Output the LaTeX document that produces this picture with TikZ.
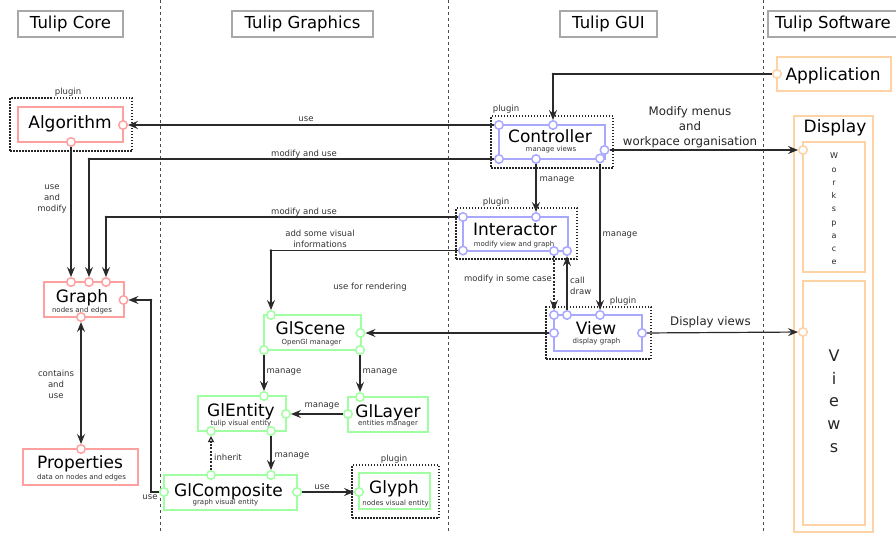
\documentclass[tikz,border=0pt]{standalone}
\usepackage{fontspec}
\setmainfont{DejaVu Sans}
\usetikzlibrary{arrows.meta}
\definecolor{rc}{HTML}{FFA0A0}
\definecolor{bc}{HTML}{A8A8FF}
\definecolor{gc}{HTML}{A0FFA0}
\definecolor{oc}{HTML}{FFD2A6}
\definecolor{hc}{HTML}{A8A8A8}
\definecolor{lc}{HTML}{2A2A2A}
\begin{document}
\begin{tikzpicture}[x=1pt,y=-1pt,
  boxr/.style={draw=rc,line width=2pt,inner sep=0},
  boxb/.style={draw=bc,line width=2pt,inner sep=0},
  boxg/.style={draw=gc,line width=2pt,inner sep=0},
  boxo/.style={draw=oc,line width=2pt,inner sep=0},
  plug/.style={draw=black!85,line width=1.5pt,dash pattern=on 1.5pt off 1.5pt,inner sep=0},
  hdrbox/.style={draw=hc,line width=2pt,inner sep=0,font=\fontsize{16.5}{20}\selectfont},
  portc/.style={circle,draw=#1,fill=white,line width=1.5pt,minimum size=8.5pt,inner sep=0},
  tipst/.tip={Stealth[length=10pt,width=8pt,inset=3.5pt]},
  arr/.style={draw=lc,line width=1.2pt,-tipst},
  ttl/.style={font=\fontsize{17}{20}\selectfont,anchor=base,inner sep=0},
  subt/.style={font=\fontsize{7}{8}\selectfont,anchor=base,inner sep=0,text=black!80},
  lab/.style={font=\fontsize{8.5}{11}\selectfont,text=black!80,inner sep=0,align=center},
  biglab/.style={font=\fontsize{11.8}{15}\selectfont,text=black!85,inner sep=0,align=center},
  colsep/.style={draw=black!70,line width=1pt,dash pattern=on 2.5pt off 3.5pt},
  cornerdot/.style={fill=lc}
]
\useasboundingbox (0,0) rectangle (896,533);
\fill[white] (0,0) rectangle (896,533);

% column separators
\draw[colsep] (160,0) -- (160,533);
\draw[colsep] (448,0) -- (448,533);
\draw[colsep] (763,0) -- (763,533);

% headers
\node[hdrbox,minimum width=105pt,minimum height=26pt] (hCore) at (70.5,24) {Tulip Core};
\node[hdrbox,minimum width=141pt,minimum height=26pt] (hGraph) at (302.5,24) {Tulip Graphics};
\node[hdrbox,minimum width=97pt,minimum height=26pt] (hGui) at (608.5,24) {Tulip GUI};
\node[hdrbox,minimum width=130pt,minimum height=26pt] (hSoft) at (833,24) {Tulip Software};

% plugin frames
\node[plug,minimum width=122pt,minimum height=53pt] (algP) at (71,124.5) {};
\node[plug,minimum width=122pt,minimum height=52pt] (ctrlP) at (552,142) {};
\node[plug,minimum width=121pt,minimum height=51pt] (intP) at (516.5,233.5) {};
\node[plug,minimum width=105pt,minimum height=52pt] (viewP) at (598.5,333) {};
\node[plug,minimum width=87pt,minimum height=53pt] (glyP) at (395.5,491.5) {};
\node[lab] (algPl) at (68,92) {plugin};
\node[lab] (ctrlPl) at (506,109) {plugin};
\node[lab] (intPl) at (496,202) {plugin};
\node[lab] (viewPl) at (623,301) {plugin};
\node[lab] (glyPl) at (394,459) {plugin};

% boxes
\node[boxr,minimum width=105pt,minimum height=35pt] (alg) at (70.5,124.5) {};
\node[boxr,minimum width=80pt,minimum height=35pt] (graph) at (84,299.5) {};
\node[boxr,minimum width=115pt,minimum height=36pt] (props) at (80.5,467) {};
\node[boxb,minimum width=106pt,minimum height=34pt] (ctrl) at (552,142) {};
\node[boxb,minimum width=105pt,minimum height=34pt] (inter) at (515.5,234) {};
\node[boxb,minimum width=88pt,minimum height=36pt] (view) at (598,333) {};
\node[boxg,minimum width=97pt,minimum height=35pt] (glscene) at (312.5,332.5) {};
\node[boxg,minimum width=88pt,minimum height=35pt] (glentity) at (242,413.5) {};
\node[boxg,minimum width=80pt,minimum height=35pt] (gllayer) at (388,414.5) {};
\node[boxg,minimum width=133pt,minimum height=35pt] (glcomp) at (230.5,492.5) {};
\node[boxg,minimum width=71pt,minimum height=36pt] (glyph) at (394.5,491) {};
\node[boxo,minimum width=114pt,minimum height=34pt] (app) at (834,74) {};
\node[boxo,minimum width=79pt,minimum height=416pt] (display) at (833.5,324) {};
\node[boxo,minimum width=62pt,minimum height=130pt] (work) at (834,207) {};
\node[boxo,minimum width=62pt,minimum height=244pt] (views) at (834,403) {};

% titles
\node[ttl] (algT) at (70,128.5) {Algorithm};
\node[ttl] (graphT) at (82,302) {Graph};
\node[subt] (graphS) at (82,312) {nodes and edges};
\node[ttl] (propsT) at (80,468) {Properties};
\node[subt] (propsS) at (81.5,479) {data on nodes and edges};
\node[ttl] (ctrlT) at (550,142.5) {Controller};
\node[subt] (ctrlS) at (551,151.5) {manage views};
\node[ttl] (intT) at (515,235.5) {Interactor};
\node[subt] (intS) at (514,246) {modify view and graph};
\node[ttl] (viewT) at (596,334.5) {View};
\node[subt] (viewS) at (596.5,343.5) {display graph};
\node[ttl] (gsT) at (310.5,334) {GlScene};
\node[subt] (gsS) at (311.5,344.5) {OpenGl manager};
\node[ttl] (geT) at (241,416) {GlEntity};
\node[subt] (geS) at (241,425.5) {tulip visual entity};
\node[ttl] (glT) at (388,417) {GlLayer};
\node[subt] (glS) at (388,425.5) {entities manager};
\node[ttl] (gcT) at (228.5,496) {GlComposite};
\node[subt] (gcS) at (225.5,504.5) {graph visual entity};
\node[ttl] (gyT) at (394,493) {Glyph};
\node[subt] (gyS) at (395.5,505) {nodes visual entity};
\node[ttl] (appT) at (833,80) {Application};
\node[ttl] (dispT) at (835,132) {Display};
\node[inner sep=0,align=center,font=\fontsize{8}{13.25}\selectfont,text=black!85] (workT) at (834,209) {W\\o\\r\\k\\s\\p\\a\\c\\e};
\node[inner sep=0,align=center,font=\fontsize{16}{22.7}\selectfont,text=black!85] (viewsT) at (834,401) {V\\i\\e\\w\\s};

% ports
\node[portc=rc] (algR) at (123,125) {};
\node[portc=rc] (algB) at (71,142) {};
\node[portc=rc] (grT1) at (71,282) {};
\node[portc=rc] (grT2) at (89,282) {};
\node[portc=rc] (grT3) at (106,282) {};
\node[portc=rc] (grR) at (123.5,300) {};
\node[portc=rc] (grB) at (81,317) {};
\node[portc=rc] (prT) at (81,449) {};
\node[portc=bc] (ctTL) at (499,125) {};
\node[portc=bc] (ctT) at (553,125) {};
\node[portc=bc] (ctBL) at (499,159) {};
\node[portc=bc] (ctB) at (536,159) {};
\node[portc=bc] (ctBR) at (600,158.5) {};
\node[portc=bc] (ctR) at (604.5,150) {};
\node[portc=bc] (inTL) at (463,217) {};
\node[portc=bc] (inT) at (536,217) {};
\node[portc=bc] (inBL) at (463,250.5) {};
\node[portc=bc] (inBR1) at (554,251) {};
\node[portc=bc] (inBR2) at (567,251) {};
\node[portc=bc] (viTL) at (554,315) {};
\node[portc=bc] (viT2) at (567,315) {};
\node[portc=bc] (viT3) at (600,315) {};
\node[portc=bc] (viL) at (554,333) {};
\node[portc=bc] (viR) at (642,333) {};
\node[portc=gc] (gsTp) at (271,315) {};
\node[portc=gc] (gsR) at (360.5,333) {};
\node[portc=gc] (gsBL) at (264,350) {};
\node[portc=gc] (gsBR) at (360,350) {};
\node[portc=gc] (geTp) at (264,396) {};
\node[portc=gc] (geR) at (286,414) {};
\node[portc=gc] (geBL) at (211,431) {};
\node[portc=gc] (geBR) at (271,431) {};
\node[portc=gc] (glTp) at (360,397) {};
\node[portc=gc] (glL) at (348,414) {};
\node[portc=gc] (gcT1) at (211,475) {};
\node[portc=gc] (gcT2) at (271,475) {};
\node[portc=gc] (gcL) at (164,492) {};
\node[portc=gc] (gcR) at (297,492) {};
\node[portc=gc] (gyL) at (359,492) {};
\node[portc=oc] (apL) at (777,74) {};
\node[portc=oc] (wsL) at (803,150) {};
\node[portc=oc] (vwL) at (803,332) {};

% connectors
\coordinate (cApp) at (553,74);
\coordinate (cCtrl) at (89,159);
\coordinate (cInt) at (106,217);
\coordinate (cVis) at (271,250.5);
\coordinate (cUse) at (151,300);
\draw[arr] (apL) -- (cApp) -- (ctT);
\draw[arr] (ctTL) -- (algR);
\draw[arr] (ctBL) -- (cCtrl) -- (grT2);
\draw[arr] (inTL) -- (cInt) -- (grT3);
\draw[arr] (inBL) -- (cVis) -- (gsTp);
\draw[arr] (algB) -- (grT1);
\draw[draw=lc,line width=1.2pt,tipst-tipst] (grB) -- (prT);
\draw[arr] (ctR) -- (wsL);
\draw[arr] (ctB) -- (inT);
\draw[arr] (ctBR) -- (viT3);
\draw[arr,dash pattern=on 2pt off 1.5pt] (inBR1) -- (viTL);
\draw[arr] (viT2) -- (inBR2);
\draw[arr] (viR) -- (vwL);
\draw[arr] (viL) -- (gsR);
\draw[arr] (gsBL) -- (geTp);
\draw[arr] (gsBR) -- (glTp);
\draw[arr] (glL) -- (geR);
\draw[arr] (geBR) -- (gcT2);
\draw[draw=lc,line width=1.2pt,dash pattern=on 2pt off 1.5pt,-{Triangle[open,length=6pt,width=6pt]}] (gcT1) -- (geBL);
\draw[arr] (gcR) -- (gyL);
\draw[arr] (gcL) -- (cUse |- gcL) -- (cUse) -- (grR);
\foreach \c in {cApp,cCtrl,cInt,cVis,cUse} \fill[cornerdot] (\c) circle (1.4pt);

% connector labels
\node[lab] (lUse1) at (306,119) {use};
\node[lab] (lMod1) at (304,154) {modify and use};
\node[lab] (lMod2) at (304,212) {modify and use};
\node[lab] (lUAM) at (52,199) {use\\and\\modify};
\node[lab] (lCAU) at (56,384) {contains\\and\\use};
\node[lab] (lAdd) at (320,239) {add some visual\\informations};
\node[lab] (lRend) at (370,287) {use for rendering};
\node[biglab] (lMenus) at (690,127) {Modify menus\\and\\workpace organisation};
\node[lab] (lMan1) at (557,180) {manage};
\node[lab] (lMan2) at (620,235) {manage};
\node[lab] (lSome) at (508,279) {modify in some case};
\node[lab,align=left,anchor=west] (lCall) at (570,286) {call\\draw};
\node[biglab] (lDisp) at (710.5,322) {Display views};
\node[lab] (lMan3) at (284,372) {manage};
\node[lab] (lMan4) at (380,372) {manage};
\node[lab] (lMan5) at (322,406) {manage};
\node[lab] (lMan6) at (292,456) {manage};
\node[lab] (lInh) at (228,457) {inherit};
\node[lab] (lUse2) at (322,487) {use};
\node[lab] (lUse3) at (150,497) {use};
\end{tikzpicture}
\end{document}
